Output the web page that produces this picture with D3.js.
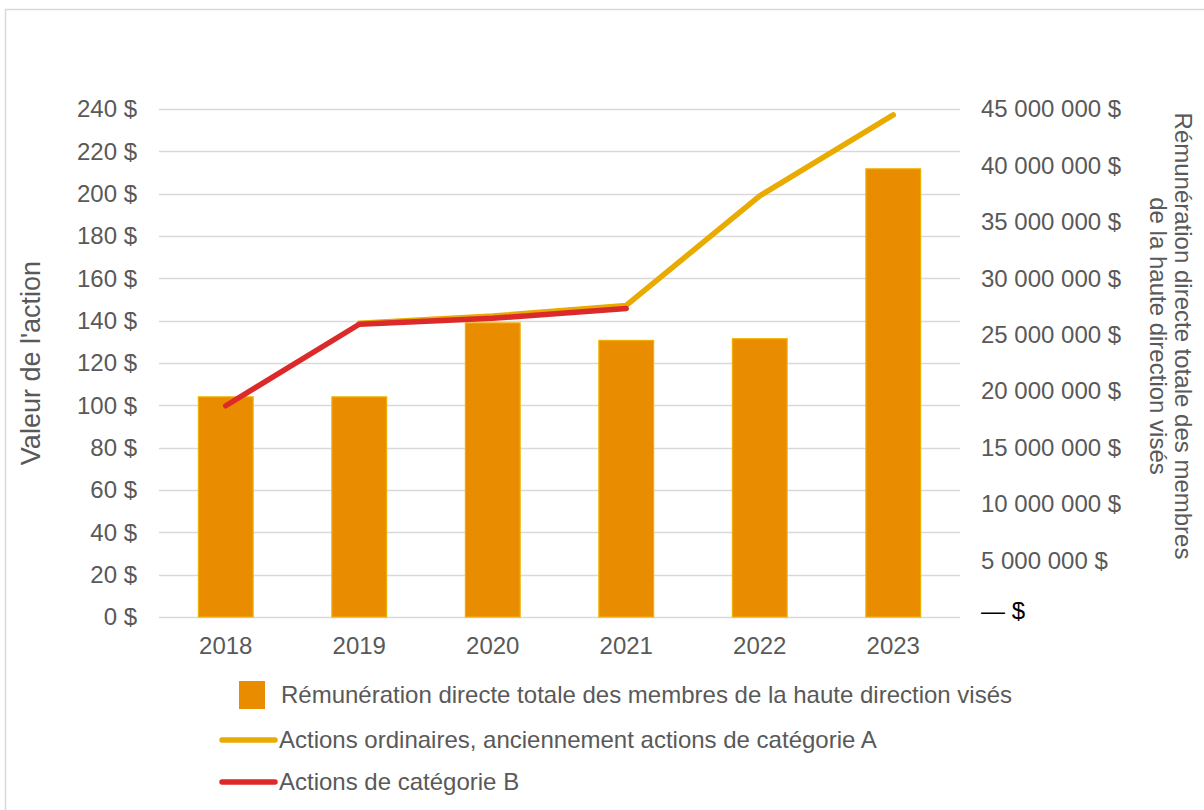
<!DOCTYPE html>
<meta charset="utf-8">
<script src="https://cdn.jsdelivr.net/npm/d3@7"></script>
<style type="text/css">
    body { margin: 0; background: #fff; }
    svg { display: block; font-family: "Liberation Sans", Arial, sans-serif; }
    .tick-label { font-size: 24px; fill: #595959; }
    .axis-title { font-size: 24px; fill: #595959; }
    .legend-label { font-size: 24px; fill: #595959; }
</style>
<body>
<script type="text/javascript">
    // data
    var years = ["2018", "2019", "2020", "2021", "2022", "2023"];
    var remuneration = [19500000, 19500000, 26050000, 24500000, 24650000, 39700000];
    var actionsA = [null, 138.8, 142.2, 147.2, 199, 237.2];
    var actionsB = [99.8, 138.3, 141.1, 145.7, null, null];
    var leftTicks = [0, 20, 40, 60, 80, 100, 120, 140, 160, 180, 200, 220, 240];
    var rightTicks = [0, 5000000, 10000000, 15000000, 20000000, 25000000, 30000000, 35000000, 40000000, 45000000];

    var seriesNames = [
        "Rémunération directe totale des membres de la haute direction visés",
        "Actions ordinaires, anciennement actions de catégorie A",
        "Actions de catégorie B"
    ];

    var width = 1204, height = 810;
    var margin = { top: 109, left: 159, right: 244, bottom: 193 };
    var plotW = width - margin.left - margin.right;
    var plotH = height - margin.top - margin.bottom;

    var barColor = "#ea8c00", barStroke = "#f0b000";
    var colorA = "#e9ab00", colorB = "#dc2a2a";

    var svg = d3.select("body").append("svg")
        .attr("width", width)
        .attr("height", height);

    // outer frame
    svg.append("rect")
        .attr("x", 5.5).attr("y", 9.5)
        .attr("width", 1300).attr("height", 900)
        .attr("fill", "none")
        .attr("stroke", "#d9d9d9")
        .attr("stroke-width", 1.5);

    var g = svg.append("g")
        .attr("transform", "translate(" + margin.left + "," + margin.top + ")");

    var xScale = d3.scaleBand()
        .domain(years)
        .range([0, plotW])
        .paddingInner(0.59)
        .paddingOuter(0.295);

    var xPoint = function (d) { return xScale(d) + xScale.bandwidth() / 2; };

    var yLeft = d3.scaleLinear().domain([0, 240]).range([plotH, 0]);
    var yRight = d3.scaleLinear().domain([0, 45000000]).range([plotH, 0]);

    // gridlines
    g.selectAll(".grid")
        .data(leftTicks)
        .enter().append("line")
        .attr("class", "grid")
        .attr("x1", 0).attr("x2", plotW)
        .attr("y1", function (d) { return Math.round(yLeft(d)) + 0.5; })
        .attr("y2", function (d) { return Math.round(yLeft(d)) + 0.5; })
        .attr("stroke", "#d9d9d9")
        .attr("stroke-width", 1.5);

    // left axis
    var leftAxis = g.append("g")
        .call(d3.axisLeft(yLeft).tickValues(leftTicks).tickSize(0).tickPadding(22)
            .tickFormat(function (d) { return d + " $"; }));
    leftAxis.select(".domain").remove();
    leftAxis.selectAll("text").attr("class", "tick-label").attr("fill", null);

    // right axis
    var fmt = d3.formatLocale({ decimal: ",", thousands: " ", grouping: [3], currency: ["", " $"] }).format(",");
    var rightAxis = g.append("g")
        .attr("transform", "translate(" + plotW + ",0)")
        .call(d3.axisRight(yRight).tickValues(rightTicks).tickSize(0).tickPadding(21)
            .tickFormat(function (d) { return d === 0 ? "\u2014 $" : fmt(d) + " $"; }));
    rightAxis.select(".domain").remove();
    rightAxis.selectAll("text").attr("class", "tick-label").attr("fill", null)
        .style("fill", function (d) { return d === 0 ? "#000" : null; })
        .attr("dy", function (d) { return d === 0 ? "0.05em" : "0.32em"; });

    // x axis
    var xAxis = g.append("g")
        .attr("transform", "translate(0," + plotH + ")")
        .call(d3.axisBottom(xScale).tickSize(0).tickPadding(20));
    xAxis.select(".domain").remove();
    xAxis.selectAll("text").attr("class", "tick-label").attr("fill", null);

    // bars
    g.selectAll(".bar")
        .data(years)
        .enter().append("rect")
        .attr("class", "bar")
        .attr("x", function (d) { return xScale(d); })
        .attr("width", xScale.bandwidth())
        .attr("y", function (d, i) { return yRight(remuneration[i]); })
        .attr("height", function (d, i) { return plotH - yRight(remuneration[i]); })
        .attr("fill", barColor)
        .attr("stroke", barStroke)
        .attr("stroke-width", 1.2);

    // lines
    var line = d3.line()
        .defined(function (d) { return d.v !== null; })
        .x(function (d) { return xPoint(d.year); })
        .y(function (d) { return yLeft(d.v); });

    function toPoints(arr) {
        return years.map(function (y, i) { return { year: y, v: arr[i] }; });
    }

    g.append("path")
        .datum(toPoints(actionsA))
        .attr("d", line)
        .attr("fill", "none")
        .attr("stroke", colorA)
        .attr("stroke-width", 5.5)
        .attr("stroke-linecap", "round")
        .attr("stroke-linejoin", "round");

    g.append("path")
        .datum(toPoints(actionsB))
        .attr("d", line)
        .attr("fill", "none")
        .attr("stroke", colorB)
        .attr("stroke-width", 5.5)
        .attr("stroke-linecap", "round")
        .attr("stroke-linejoin", "round");

    // axis titles
    svg.append("text")
        .attr("class", "axis-title")
        .style("font-size", "27px")
        .attr("transform", "translate(40," + (margin.top + plotH / 2) + ") rotate(-90)")
        .attr("text-anchor", "middle")
        .text("Valeur de l'action");

    var rt = svg.append("text")
        .attr("class", "axis-title")
        .attr("transform", "translate(1175,336) rotate(90)")
        .attr("text-anchor", "middle");
    rt.append("tspan").attr("x", 0).attr("y", 0).text("Rémunération directe totale des membres");
    rt.append("tspan").attr("x", 0).attr("y", 25).text("de la haute direction visés");

    // legend
    var legend = svg.append("g");

    legend.append("rect")
        .attr("x", 239).attr("y", 681)
        .attr("width", 26).attr("height", 28)
        .attr("fill", barColor);
    legend.append("text")
        .attr("class", "legend-label")
        .attr("x", 281).attr("y", 695)
        .attr("dy", "0.35em")
        .text(seriesNames[0]);

    [[colorA, 740, seriesNames[1]], [colorB, 782, seriesNames[2]]].forEach(function (d) {
        legend.append("line")
            .attr("x1", 222).attr("x2", 275)
            .attr("y1", d[1]).attr("y2", d[1])
            .attr("stroke", d[0])
            .attr("stroke-width", 5.5)
            .attr("stroke-linecap", "round");
        legend.append("text")
            .attr("class", "legend-label")
            .attr("x", 279).attr("y", d[1])
            .attr("dy", "0.35em")
            .text(d[2]);
    });
</script>
</body>
</html>
